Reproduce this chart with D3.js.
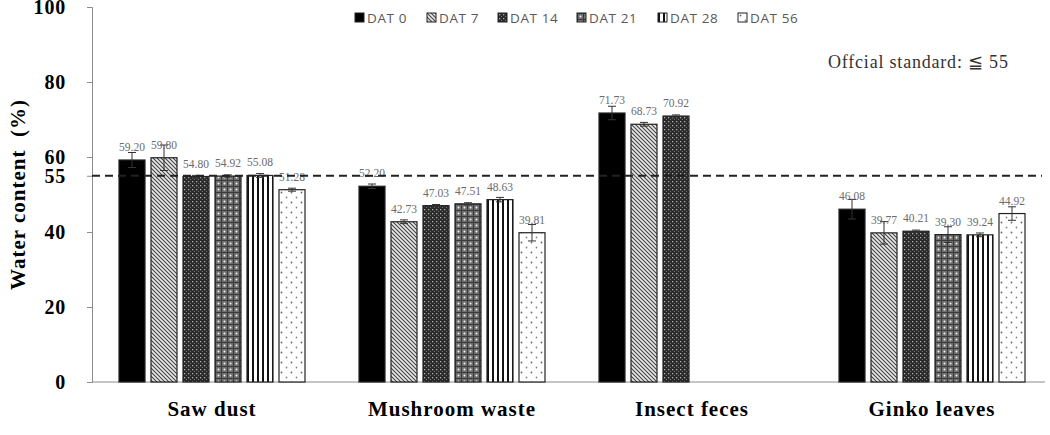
<!DOCTYPE html>
<html>
<head>
<meta charset="utf-8">
<script src="https://cdn.jsdelivr.net/npm/d3@7"></script>
<style>
  body { margin: 0; background: #fff; }
  svg { display: block; }
</style>
</head>
<body>
<svg id="chart" width="1050" height="435"></svg>
<script>
// data
var categories = ["Saw dust", "Mushroom waste", "Insect feces", "Ginko leaves"];
var seriesNames = ["DAT 0", "DAT 7", "DAT 14", "DAT 21", "DAT 28", "DAT 56"];

var dat0  = [59.20, 52.20, 71.73, 46.08];
var dat7  = [59.80, 42.73, 68.73, 39.77];
var dat14 = [54.80, 47.03, 70.92, 40.21];
var dat21 = [54.92, 47.51, null, 39.30];
var dat28 = [55.08, 48.63, null, 39.24];
var dat56 = [51.28, 39.81, null, 44.92];

var err0  = [2.0, 0.6, 1.8, 2.6];
var err7  = [3.4, 0.5, 0.5, 3.0];
var err14 = [0.3, 0.3, 0.3, 0.3];
var err21 = [0.3, 0.3, null, 2.1];
var err28 = [0.5, 0.6, null, 0.5];
var err56 = [0.4, 2.2, null, 1.8];

var yTicks = [0, 20, 40, 55, 60, 80, 100];
var standard = 55;

var values = [dat0, dat7, dat14, dat21, dat28, dat56];
var errors = [err0, err7, err14, err21, err28, err56];

var svg = d3.select("#chart");
var mLeft = 92, mRight = 1052, mTop = 7, mBottom = 382;

var x0 = d3.scaleBand().domain(categories).range([mLeft, mRight]);
var x1 = d3.scaleBand().domain(seriesNames).range([24, 216])
    .paddingInner(0.1875).paddingOuter(0.09375);
var y = d3.scaleLinear().domain([0, 100]).range([mBottom, mTop]);

// fill patterns
var defs = svg.append("defs");

function pat(id, w, h) {
    return defs.append("pattern").attr("id", id)
        .attr("patternUnits", "userSpaceOnUse")
        .attr("width", w).attr("height", h);
}

var p7 = pat("p7", 4, 4);
p7.append("rect").attr("width", 4).attr("height", 4).attr("fill", "#e8e8e8");
p7.append("path").attr("d", "M-1,-1 L5,5 M-1,3 L1,5 M3,-1 L5,1")
    .attr("stroke", "#444").attr("stroke-width", 1.1);

var p14 = pat("p14", 4, 4);
p14.append("rect").attr("width", 4).attr("height", 4).attr("fill", "#2a2a2a");
p14.append("rect").attr("x", 1).attr("y", 1).attr("width", 1.3).attr("height", 1.3).attr("fill", "#aaa");
p14.append("rect").attr("x", 3).attr("y", 3).attr("width", 1).attr("height", 1).attr("fill", "#777");

var p21 = pat("p21", 6, 6);
p21.append("rect").attr("width", 6).attr("height", 6).attr("fill", "#707070");
p21.append("path").attr("d", "M0,0.5 H6 M0.5,0 V6").attr("stroke", "#3a3a3a").attr("stroke-width", 1);
p21.append("circle").attr("cx", 3.5).attr("cy", 3.5).attr("r", 1).attr("fill", "#eee");

var p28 = pat("p28", 5, 5);
p28.append("rect").attr("width", 5).attr("height", 5).attr("fill", "#fff");
p28.append("rect").attr("width", 2).attr("height", 5).attr("fill", "#111");

var p56 = pat("p56", 10, 10);
p56.append("rect").attr("width", 10).attr("height", 10).attr("fill", "#fff");
p56.append("circle").attr("cx", 2.5).attr("cy", 2.5).attr("r", 0.9).attr("fill", "#666");
p56.append("circle").attr("cx", 7.5).attr("cy", 7.5).attr("r", 0.9).attr("fill", "#888");

var fills = ["#000", "url(#p7)", "url(#p14)", "url(#p21)", "url(#p28)", "url(#p56)"];

// y axis
var yAxis = svg.append("g")
    .attr("transform", "translate(" + mLeft + ",0)")
    .call(d3.axisLeft(y).tickValues(yTicks).tickSize(5).tickPadding(21).tickFormat(d3.format("d")));
yAxis.select(".domain").attr("stroke", "#8c8c8c");
yAxis.selectAll(".tick line").attr("stroke", "#8c8c8c");
yAxis.selectAll(".tick text")
    .attr("font-family", "Liberation Serif, serif")
    .attr("font-weight", "bold")
    .attr("font-size", 20)
    .attr("letter-spacing", 0.8)
    .attr("fill", "#000");

// x axis line
svg.append("line")
    .attr("x1", mLeft).attr("x2", 1045)
    .attr("y1", y(0)).attr("y2", y(0))
    .attr("stroke", "#8c8c8c").attr("stroke-width", 1.2);

// category labels
svg.append("g").selectAll("text")
    .data(categories)
    .enter().append("text")
    .attr("x", function(d) { return x0(d) + x0.bandwidth() / 2; })
    .attr("y", 416)
    .attr("text-anchor", "middle")
    .attr("font-family", "Liberation Serif, serif")
    .attr("font-weight", "bold")
    .attr("font-size", 21)
    .attr("letter-spacing", 1)
    .text(function(d) { return d; });

// y title
svg.append("text")
    .attr("transform", "translate(25," + ((y(100) + y(0)) / 2) + ") rotate(-90)")
    .attr("text-anchor", "middle")
    .attr("font-family", "Liberation Serif, serif")
    .attr("font-weight", "bold")
    .attr("font-size", 21)
    .attr("letter-spacing", 1)
    .attr("xml:space", "preserve")
    .text("Water content  (%)");

// bars
var rows = [];
categories.forEach(function(c, ci) {
    seriesNames.forEach(function(s, si) {
        if (values[si][ci] != null)
            rows.push({cat: c, s: s, si: si, v: values[si][ci], e: errors[si][ci]});
    });
});

var bars = svg.append("g").selectAll("g")
    .data(rows)
    .enter().append("g")
    .attr("transform", function(d) { return "translate(" + (x0(d.cat) + x1(d.s)) + ",0)"; });

bars.append("rect")
    .attr("x", 0)
    .attr("y", function(d) { return y(d.v); })
    .attr("width", x1.bandwidth())
    .attr("height", function(d) { return y(0) - y(d.v); })
    .attr("fill", function(d) { return fills[d.si]; })
    .attr("stroke", "#222")
    .attr("stroke-width", 1.2);

// error bars
var bw = x1.bandwidth();
bars.append("path")
    .attr("d", function(d) {
        var cx = bw / 2, t = y(d.v + d.e), b = y(d.v - d.e);
        return "M" + cx + "," + t + "V" + b + "M" + (cx - 4) + "," + t + "H" + (cx + 4) +
            "M" + (cx - 4) + "," + b + "H" + (cx + 4);
    })
    .attr("stroke", "#333")
    .attr("stroke-width", 1)
    .attr("fill", "none");

// value labels
bars.append("text")
    .attr("x", bw / 2)
    .attr("y", function(d) { return y(d.v) - 9; })
    .attr("text-anchor", "middle")
    .attr("font-family", "Liberation Serif, serif")
    .attr("font-size", 11.5)
    .attr("fill", "#6b6b6b")
    .text(function(d) { return d.v.toFixed(2); });

// standard line
svg.append("line")
    .attr("x1", mLeft).attr("x2", 1042)
    .attr("y1", y(standard)).attr("y2", y(standard))
    .attr("stroke", "#222")
    .attr("stroke-width", 2)
    .attr("stroke-dasharray", "8,5");

svg.append("text")
    .attr("x", 828).attr("y", 68)
    .attr("font-family", "Liberation Serif, serif")
    .attr("font-size", 18)
    .attr("letter-spacing", 0.8)
    .attr("fill", "#333")
    .text("Offcial standard: \u2266 55");

// legend
var legendX = [355, 427, 498, 577, 658, 738];
var legend = svg.append("g").selectAll("g")
    .data(seriesNames)
    .enter().append("g")
    .attr("transform", function(d, i) { return "translate(" + legendX[i] + ",13)"; });

legend.append("rect")
    .attr("width", 9).attr("height", 9)
    .attr("fill", function(d, i) { return fills[i]; })
    .attr("stroke", "#222").attr("stroke-width", 1);

legend.append("text")
    .attr("x", 12).attr("y", 9.5)
    .attr("font-family", "Open Sans, sans-serif")
    .attr("font-size", 13.5)
    .attr("letter-spacing", 0.6)
    .attr("fill", "#595959")
    .text(function(d) { return d; });
</script>
</body>
</html>
